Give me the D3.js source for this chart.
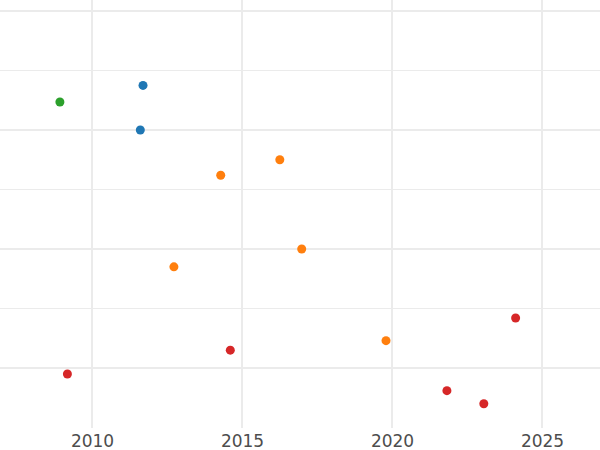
<!DOCTYPE html>
<html>
<head>
<meta charset="utf-8">
<script src="https://cdn.jsdelivr.net/npm/d3@7"></script>
<style>
  html, body { margin: 0; padding: 0; background: #ffffff; }
  svg { display: block; }
</style>
</head>
<body>
<svg id="chart" width="600" height="450"></svg>
<script>
// ---- data ----
const seriesNames = ["blue", "green", "orange", "red"];
const seriesColors = ["#1f77b4", "#2ca02c", "#ff7f0e", "#d62728"];
const blueX = [2011.70, 2011.61];
const blueY = [4.75, 4.00];
const greenX = [2008.93];
const greenY = [4.47];
const orangeX = [2014.29, 2016.26, 2012.73, 2016.99, 2019.80];
const orangeY = [3.24, 3.50, 1.70, 2.00, 0.46];
const redX = [2009.18, 2014.61, 2024.12, 2021.83, 2023.06];
const redY = [-0.10, 0.30, 0.84, -0.38, -0.60];
const xTicks = [2010, 2015, 2020, 2025];
const yMajor = [0, 2, 4, 6];
const yMinor = [1, 3, 5];

const seriesX = [blueX, greenX, orangeX, redX];
const seriesY = [blueY, greenY, orangeY, redY];
const points = [];
seriesNames.forEach((n, i) => {
  seriesX[i].forEach((x, j) => points.push({ s: i, x: x, y: seriesY[i][j] }));
});

// ---- layout ----
const W = 600, panelTop = 0, panelBottom = 428;
const svg = d3.select("#chart");
const x = d3.scaleLinear().domain([2006.933, 2026.933]).range([0, W]);
const y = d3.scaleLinear().domain([-1.008, 6.185]).range([panelBottom, panelTop]);

const grid = svg.append("g");
// minor horizontal
grid.selectAll("line.ymin").data(yMinor).join("line")
  .attr("x1", 0).attr("x2", W)
  .attr("y1", d => y(d)).attr("y2", d => y(d))
  .attr("stroke", "#ebebeb").attr("stroke-width", 1);
// major horizontal
grid.selectAll("line.ymaj").data(yMajor).join("line")
  .attr("x1", 0).attr("x2", W)
  .attr("y1", d => y(d)).attr("y2", d => y(d))
  .attr("stroke", "#ebebeb").attr("stroke-width", 2);
// major vertical
grid.selectAll("line.xmaj").data(xTicks).join("line")
  .attr("x1", d => x(d)).attr("x2", d => x(d))
  .attr("y1", panelTop).attr("y2", panelBottom)
  .attr("stroke", "#ebebeb").attr("stroke-width", 2);

// x axis labels via d3 axis
const xAxis = d3.axisBottom(x).tickValues(xTicks).tickFormat(d3.format("d")).tickSize(0).tickPadding(0);
const ax = svg.append("g").attr("transform", `translate(0,${panelBottom})`).call(xAxis);
ax.select(".domain").remove();
ax.selectAll("text")
  .attr("y", 18.5)
  .attr("dy", null)
  .attr("fill", "#4d4d4d")
  .style("font-family", "'DejaVu Sans', sans-serif")
  .style("font-size", "17px");

// points
svg.append("g").selectAll("circle").data(points).join("circle")
  .attr("cx", d => x(d.x))
  .attr("cy", d => y(d.y))
  .attr("r", 4.5)
  .attr("fill", d => seriesColors[d.s]);
</script>
</body>
</html>
